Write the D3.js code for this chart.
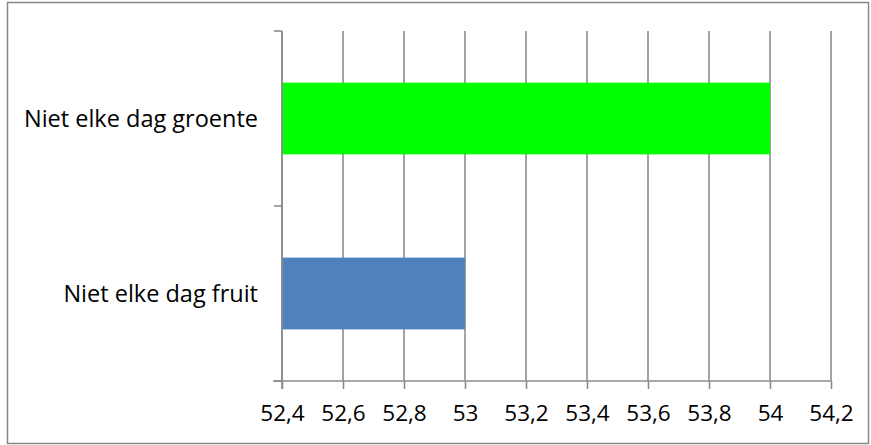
<!DOCTYPE html>
<html>
<head>
<meta charset="utf-8">
<script src="https://cdn.jsdelivr.net/npm/d3@7"></script>
<style>
  body { margin: 0; background: #fff; }
  svg text { font-family: "Open Sans", "Liberation Sans", sans-serif; fill: #000; }
</style>
</head>
<body>
<div id="chart"></div>
<script>
// chart data
var categories = ["Niet elke dag groente", "Niet elke dag fruit"];
var values = [54, 53];
var barColors = ["#00ff00", "#4f81bd"];
var tickValues = [52.4, 52.6, 52.8, 53, 53.2, 53.4, 53.6, 53.8, 54, 54.2];

var width = 871,
	height = 445,
	gridColor = "#8c8c8c";

var svg = d3.select("#chart").append("svg")
	.attr("width", width)
	.attr("height", height);

// outer frame
svg.append("rect")
	.attr("x", 7.5)
	.attr("y", 2.5)
	.attr("width", width - 10)
	.attr("height", height - 4)
	.attr("fill", "none")
	.attr("stroke", "#868686")
	.attr("stroke-width", 1.5);

var x = d3.scaleLinear()
	.domain([52.4, 54.2])
	.range([282, 831]);

var y = d3.scaleBand()
	.domain(categories)
	.range([31, 381])
	.paddingInner(0.59)
	.paddingOuter(0.295);

// vertical gridlines
svg.append("g")
	.selectAll("line")
	.data(tickValues)
	.enter().append("line")
		.attr("x1", function(d) { return x(d); })
		.attr("x2", function(d) { return x(d); })
		.attr("y1", 31)
		.attr("y2", 381)
		.attr("stroke", gridColor)
		.attr("stroke-width", 1.6);

// bars start at the left edge of the axis
svg.append("g")
	.selectAll("rect")
	.data(categories)
	.enter().append("rect")
		.attr("x", x(52.4))
		.attr("y", function(d) { return y(d); })
		.attr("width", function(d, i) { return x(values[i]) - x(52.4); })
		.attr("height", y.bandwidth())
		.attr("fill", function(d, i) { return barColors[i]; });

// x axis
var xAxis = svg.append("g")
	.attr("transform", "translate(0,381)")
	.call(d3.axisBottom(x)
		.tickValues(tickValues)
		.tickSize(8)
		.tickPadding(16)
		.tickFormat(function(d) { return d3.format("")(+d.toFixed(1)).replace(".", ","); }));

xAxis.select(".domain")
	.attr("stroke", gridColor)
	.attr("stroke-width", 1.6)
	.attr("d", "M" + (x(52.4) - 9) + ",0H" + x(54.2));
xAxis.selectAll(".tick line").attr("stroke", gridColor).attr("stroke-width", 1.6);
xAxis.selectAll(".tick text")
	.style("font-size", "22.5px");

// y axis: line plus ticks on band boundaries
var yAxis = svg.append("g");
yAxis.append("line")
	.attr("x1", x(52.4)).attr("x2", x(52.4))
	.attr("y1", 31).attr("y2", 389)
	.attr("stroke", gridColor)
	.attr("stroke-width", 1.6);

var bounds = [31, 206, 381];
yAxis.selectAll(".ytick")
	.data(bounds)
	.enter().append("line")
		.attr("class", "ytick")
		.attr("x1", x(52.4) - 8)
		.attr("x2", x(52.4))
		.attr("y1", function(d) { return d; })
		.attr("y2", function(d) { return d; })
		.attr("stroke", gridColor)
		.attr("stroke-width", 1.6);

yAxis.selectAll(".ylabel")
	.data(categories)
	.enter().append("text")
		.attr("class", "ylabel")
		.attr("x", 258)
		.attr("y", function(d) { return y(d) + y.bandwidth() / 2; })
		.attr("dy", "0.35em")
		.attr("text-anchor", "end")
		.style("font-size", "23.5px")
		.text(function(d) { return d; });
</script>
</body>
</html>
